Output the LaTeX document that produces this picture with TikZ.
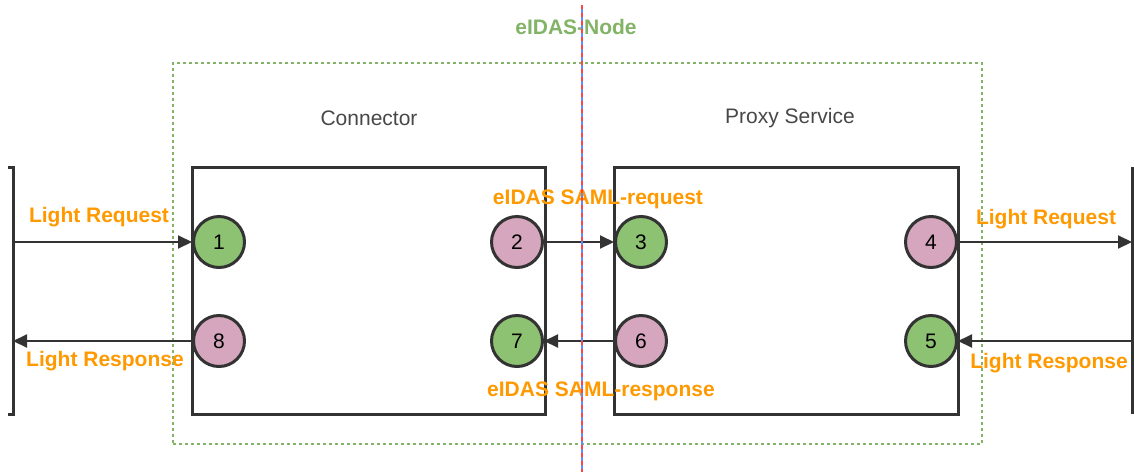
\documentclass[tikz,border=0pt]{standalone}
\usepackage{fontspec}
\setmainfont{Liberation Sans}
\usetikzlibrary{arrows.meta}
\definecolor{edge}{HTML}{333333}
\definecolor{grn}{HTML}{82B366}
\definecolor{grnfill}{HTML}{8DC273}
\definecolor{pnkfill}{HTML}{D5A6BD}
\definecolor{orng}{HTML}{FF9900}
\definecolor{vred}{HTML}{FF4444}
\definecolor{vblue}{HTML}{6688FF}
\tikzset{
  every node/.style={font=\fontsize{21}{24}\selectfont},
  circ/.style={circle, draw=edge, line width=3pt, minimum size=51pt, inner sep=0pt},
  gcirc/.style={circ, fill=grnfill},
  pcirc/.style={circ, fill=pnkfill},
  boxx/.style={draw=edge, line width=3pt, minimum width=353pt, minimum height=247pt, inner sep=0pt},
  flow/.style={draw=edge, line width=2pt, -{Triangle[length=14pt,width=13pt]}},
  lbl/.style={text=orng, font=\fontsize{21}{24}\selectfont\bfseries, inner sep=0pt},
  title/.style={text=edge!90, inner sep=0pt},
}
\begin{document}
\begin{tikzpicture}[x=1pt,y=-1pt]
\useasboundingbox (0,0) rectangle (1134,472);
% outer eIDAS-Node region
\node (region) [draw=grn, line width=1.4pt, dash pattern=on 3pt off 3pt, minimum width=809pt, minimum height=381pt, inner sep=0pt] at (577.5,253.5) {};
\node (nodetitle) [text=grn, font=\fontsize{21}{24}\selectfont\bfseries, inner sep=0pt] at (576,27) {eIDAS-Node};
% boxes
\node (conn) [boxx] at (368.5,290.5) {};
\node (proxy) [boxx, minimum width=344pt] at (786,290.5) {};
\node (conntitle) [title] at (369,118) {Connector};
\node (proxytitle) [title] at (790,118) {Proxy Service};
% brackets
\draw[draw=edge, line width=3pt] (8,167) -- (13,167) -- (13,414) -- (8,414);
\draw[draw=edge, line width=3pt] (1132,167) -- (1132,414);
\coordinate (lin) at (13,242);
\coordinate (lout) at (13,341);
\coordinate (rout) at (1132,242);
\coordinate (rin) at (1132,341);
% circles
\node (c1) [gcirc] at (219,242) {1};
\node (c8) [pcirc] at (219,341) {8};
\node (c2) [pcirc] at (517,242) {2};
\node (c7) [gcirc] at (517,341) {7};
\node (c3) [gcirc] at (641,242) {3};
\node (c6) [pcirc] at (641,341) {6};
\node (c4) [pcirc] at (931,242) {4};
\node (c5) [gcirc] at (931,341) {5};
% connectors
\draw[flow] (lin) -- (c1);
\draw[flow] (c8) -- (lout);
\draw[flow] (c2) -- (c3);
\draw[flow] (c6) -- (c7);
\draw[flow] (c4) -- (rout);
\draw[flow] (rin) -- (c5);
% labels
\node (l1) [lbl] at (99,217) {Light Request};
\node (l2) [lbl] at (105,361) {Light Response};
\node (l3) [lbl] at (598,199) {eIDAS SAML-request};
\node (l4) [lbl] at (601,391) {eIDAS SAML-response};
\node (l5) [lbl] at (1046,219) {Light Request};
\node (l6) [lbl] at (1049,363) {Light Response};
% vertical divider
\draw[vred, line width=1.3pt, dash pattern=on 4pt off 4pt] (582,5) -- (582,472);
\draw[vblue, line width=1.3pt, dash pattern=on 4pt off 4pt, dash phase=4pt] (582,5) -- (582,472);
\end{tikzpicture}
\end{document}
